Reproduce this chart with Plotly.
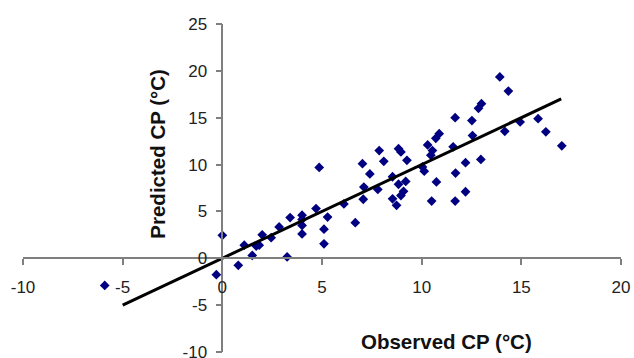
import plotly.graph_objects as go

# Observed vs predicted CP (°C)
observed = [-5.9, -0.3, 0.0, 0.8, 1.1, 1.5, 1.7, 1.85, 2.0, 2.45, 2.85, 3.25, 3.4,
            4.0, 4.0, 4.0, 4.0, 4.7, 4.86, 5.1, 5.1, 5.28, 6.1, 6.67, 7.03, 7.07,
            7.1, 7.4, 7.8, 7.87, 8.1, 8.54, 8.54, 8.74, 8.84, 8.96, 8.84, 8.96,
            9.09, 9.2, 9.26, 10.04, 10.13, 10.3, 10.46, 10.54, 10.71, 10.88, 10.74,
            10.5, 11.58, 11.7, 11.68, 11.68, 12.2, 12.2, 12.52, 12.55, 12.85, 13.0,
            12.97, 13.92, 14.35, 14.17, 14.94, 15.84, 16.23, 17.03]
predicted = [-2.9, -1.75, 2.45, -0.75, 1.4, 0.3, 1.3, 1.4, 2.5, 2.2, 3.35, 0.15, 4.35,
             4.6, 4.15, 3.5, 2.6, 5.3, 9.7, 3.1, 1.55, 4.4, 5.8, 3.8, 10.1, 6.3,
             7.6, 9.0, 7.35, 11.5, 10.35, 8.7, 6.35, 5.65, 11.7, 11.35, 7.9, 6.7,
             7.15, 8.2, 10.45, 9.75, 9.3, 12.1, 11.0, 11.5, 12.8, 13.3, 8.15,
             6.1, 11.9, 9.1, 6.1, 15.0, 10.2, 7.1, 14.7, 13.1, 16.0, 16.5,
             10.55, 19.35, 17.85, 13.55, 14.55, 14.9, 13.5, 12.0]

# 1:1 reference line
line_x = [-5, 17]
line_y = [-5, 17]

x_ticks = [-10, -5, 0, 5, 10, 15, 20]
y_ticks = [-10, -5, 0, 5, 10, 15, 20, 25]

x_range = [-10, 20]
y_range = [-10, 25]

x_title = "Observed CP (°C)"
y_title = "Predicted CP (°C)"

fig = go.Figure()
fig.add_trace(go.Scatter(
    x=observed, y=predicted, mode="markers",
    marker=dict(symbol="diamond", size=7.5, color="#000080"),
    showlegend=False, hoverinfo="skip"))
fig.add_trace(go.Scatter(
    x=line_x, y=line_y, mode="lines",
    line=dict(color="black", width=3),
    showlegend=False, hoverinfo="skip"))

font_family = "Liberation Sans, Arial, sans-serif"
axis_color = "#7f7f7f"

fig.update_layout(
    width=634, height=358,
    margin=dict(l=23, r=13, t=24, b=6),
    paper_bgcolor="white", plot_bgcolor="white",
    font=dict(family=font_family, size=17, color="#222222"),
    xaxis=dict(
        range=x_range, tickvals=x_ticks, ticktext=[str(v) for v in x_ticks],
        anchor="free", position=(0 - y_range[0]) / (y_range[1] - y_range[0]),
        showline=True, linecolor=axis_color, linewidth=1.5,
        ticks="outside", ticklen=6, tickwidth=1.5, tickcolor=axis_color,
        showgrid=False, zeroline=False, automargin=False,
        ticklabelstandoff=8, ticklabeloverflow="allow",
        tickfont=dict(size=17, family=font_family, color="#222222"),
    ),
    yaxis=dict(
        range=y_range, tickvals=y_ticks, ticktext=[str(v) for v in y_ticks],
        anchor="free", position=(0 - x_range[0]) / (x_range[1] - x_range[0]),
        showline=True, linecolor=axis_color, linewidth=1.5,
        ticks="outside", ticklen=6, tickwidth=1.5, tickcolor=axis_color,
        showgrid=False, zeroline=False, automargin=False,
        ticklabelstandoff=5, ticklabeloverflow="allow",
        tickfont=dict(size=17, family=font_family, color="#222222"),
    ),
    annotations=[
        dict(text="<b>" + x_title + "</b>", x=11.24, y=-8.86, xref="x", yref="y",
             showarrow=False, font=dict(size=20.5, family=font_family, color="#111111"),
             xanchor="center", yanchor="middle"),
        dict(text="<b>" + y_title + "</b>", x=-3.26, y=11.2, xref="x", yref="y",
             showarrow=False, textangle=-90,
             font=dict(size=20.5, family=font_family, color="#111111"),
             xanchor="center", yanchor="middle"),
    ],
)

fig.write_html("out.html")
